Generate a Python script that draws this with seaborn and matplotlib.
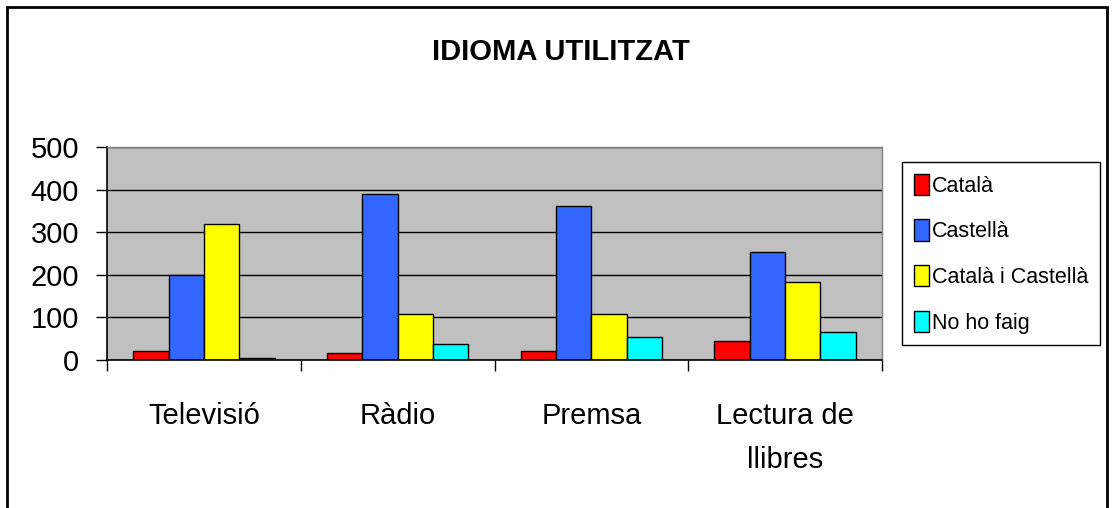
import pandas as pd
import matplotlib
matplotlib.use('Agg')
import matplotlib.pyplot as plt
import seaborn as sns
from matplotlib.patches import Rectangle, Patch

# ===== Data =====
categories = ['Televisió', 'Ràdio', 'Premsa', 'Lectura de\nllibres']
series = ['Català', 'Castellà', 'Català i Castellà', 'No ho faig']
catala = [22, 17, 22, 44]
castella = [200, 389, 362, 254]
catala_castella = [319, 109, 109, 184]
no_ho_faig = [5, 38, 54, 65]
colors = ['#FF0000', '#3366FF', '#FFFF00', '#00FFFF']

rows = []
for name, vals in zip(series, [catala, castella, catala_castella, no_ho_faig]):
    for cat, v in zip(categories, vals):
        rows.append({'cat': cat, 'serie': name, 'value': v})
df = pd.DataFrame(rows)

sns.set_theme(style='white')
plt.rcParams['font.family'] = ['Liberation Sans', 'DejaVu Sans']
plt.rcParams['text.color'] = 'black'
plt.rcParams['xtick.color'] = 'black'
plt.rcParams['ytick.color'] = 'black'
plt.rcParams['xtick.labelcolor'] = 'black'
plt.rcParams['ytick.labelcolor'] = 'black'

fig = plt.figure(figsize=(11.12, 5.08), dpi=100)
ax = fig.add_axes([107 / 1112, 1 - 360 / 508, 775 / 1112, 213 / 508])
ax.set_facecolor('#C0C0C0')

sns.barplot(data=df, x='cat', y='value', hue='serie', order=categories,
            hue_order=series, palette=colors, width=0.73, saturation=1,
            edgecolor='black', linewidth=1, ax=ax, legend=False)

ax.set_ylim(0, 500)
ax.set_xlim(-0.5, 3.5)
ax.set_yticks(range(0, 501, 100))
ax.yaxis.grid(True, color='black', linewidth=1)
ax.set_axisbelow(True)
ax.set_xlabel('')
ax.set_ylabel('')

# category labels centred, tick marks on the boundaries
ax.set_xticks(range(4))
ax.set_xticklabels(categories, fontsize=21, linespacing=1.75, color='black')
ax.set_xticks([-0.5, 0.5, 1.5, 2.5, 3.5], minor=True)
ax.tick_params(axis='x', which='major', length=0, pad=30)
ax.tick_params(axis='x', which='minor', length=8, width=1, color='black',
               direction='out', bottom=True)
ax.tick_params(axis='y', length=8, width=1, color='black', direction='out',
               left=True, labelsize=21, pad=12, labelcolor='black')

for side in ['left', 'bottom']:
    ax.spines[side].set_color('black')
    ax.spines[side].set_linewidth(1.2)
for side in ['top', 'right']:
    ax.spines[side].set_color('#808080')
    ax.spines[side].set_linewidth(1)

fig.text(561 / 1112, 1 - 52 / 508, 'IDIOMA UTILITZAT', ha='center',
         va='center', fontsize=21, fontweight='bold', color='black')

handles = [Patch(facecolor=c, edgecolor='black', linewidth=1) for c in colors]
leg = fig.legend(handles, series, loc='upper left',
                 bbox_to_anchor=(902 / 1112, 1 - 162 / 508),
                 fontsize=15.5, frameon=True, fancybox=False, framealpha=1,
                 edgecolor='black', handlelength=0.7, handleheight=1.15,
                 handletextpad=0.15, labelspacing=1.05, borderpad=0.55,
                 borderaxespad=0)
leg.get_frame().set_linewidth(1)
for t in leg.get_texts():
    t.set_color('black')

# outer chart border
fig.patches.append(Rectangle((7 / 1112, -0.05), 1100 / 1112, 1.05 - 7 / 508,
                             transform=fig.transFigure, fill=False,
                             edgecolor='black', linewidth=2))

fig.savefig('out.png', dpi=100, facecolor='white')
